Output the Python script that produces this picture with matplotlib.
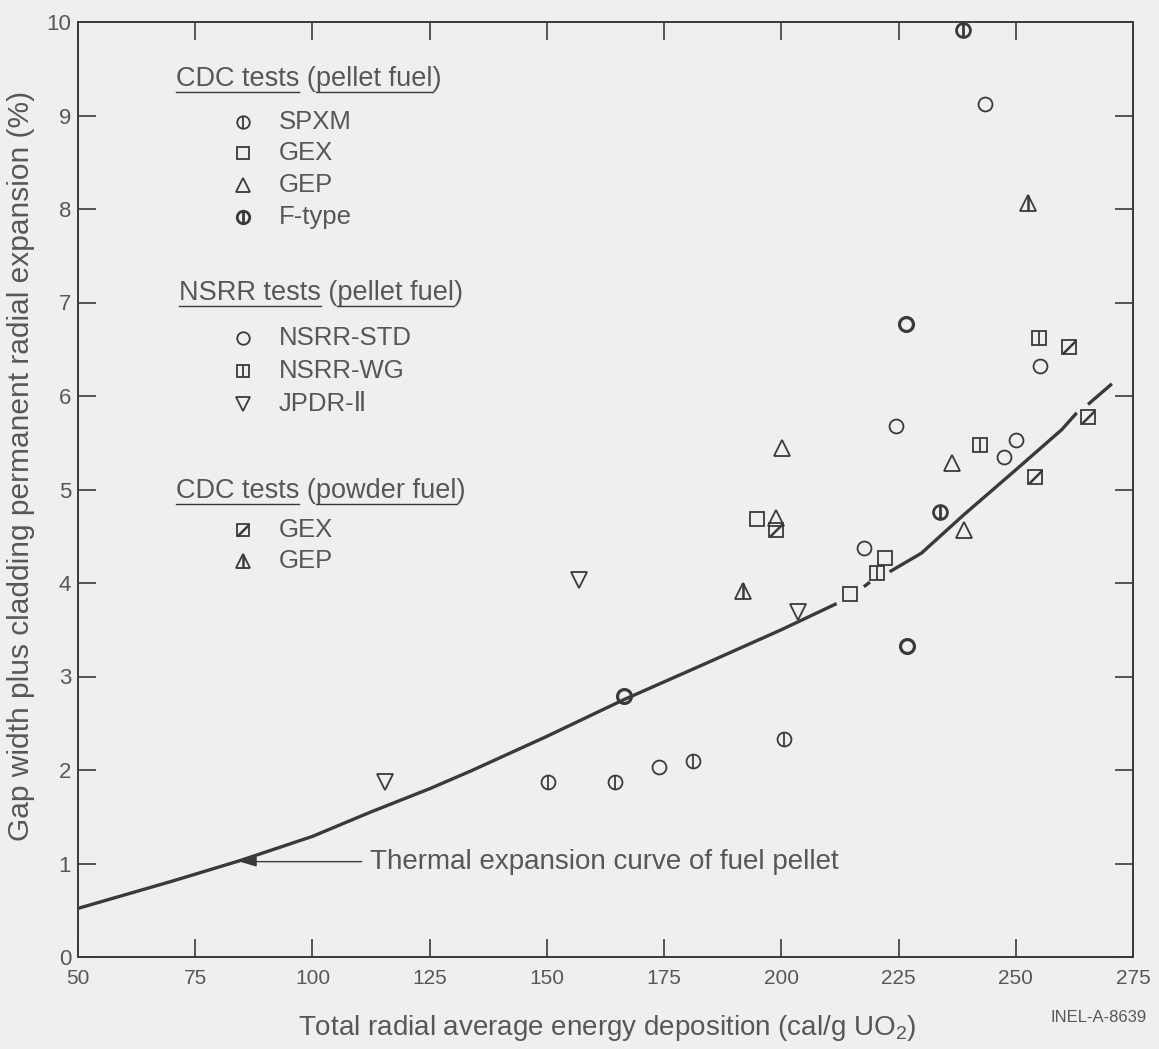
import matplotlib
matplotlib.use('Agg')
import matplotlib.pyplot as plt
from matplotlib.path import Path
from matplotlib.lines import Line2D

plt.rcParams['font.family'] = ['Liberation Sans', 'DejaVu Sans']
plt.rcParams['mathtext.fontset'] = 'custom'
plt.rcParams['mathtext.rm'] = 'Liberation Sans'
plt.rcParams['mathtext.default'] = 'regular'

INK = '#3a3a3a'
TXT = '#575757'
PAPER = '#efefef'

# CDC tests (pellet fuel)
spxm_x = [150.2, 164.5, 181.1, 200.5]
spxm_y = [1.87, 1.87, 2.10, 2.33]
gex_x = [194.9, 214.7, 222.2]
gex_y = [4.68, 3.88, 4.27]
gep_x = [200.2, 198.9, 236.5, 238.9]
gep_y = [5.44, 4.70, 5.28, 4.57]
ftype_x = [233.8, 238.7]
ftype_y = [4.76, 9.91]

# NSRR tests (pellet fuel)
std_x = [173.9, 217.7, 224.4, 243.4, 247.4, 250.0, 255.2]
std_y = [2.03, 4.37, 5.68, 9.12, 5.35, 5.53, 6.32]
std_bold_x = [166.4, 226.5, 226.9]
std_bold_y = [2.79, 6.77, 3.33]
wg_x = [220.3, 242.3, 254.9]
wg_y = [4.11, 5.48, 6.62]
jpdr_x = [115.4, 156.8, 203.5]
jpdr_y = [1.87, 4.03, 3.69]

# CDC tests (powder fuel)
pgex_x = [198.9, 254.0, 261.3, 265.4]
pgex_y = [4.57, 5.13, 6.52, 5.78]
pgep_x = [191.9, 252.6]
pgep_y = [3.91, 8.06]

# thermal expansion curve, drawn in pieces (gaps around the markers)
curve_parts = [
    ([50, 70, 84.5, 100, 112.4, 125, 133.8, 150, 166.3, 183, 200, 211.8],
     [0.52, 0.81, 1.03, 1.29, 1.55, 1.80, 1.99, 2.36, 2.75, 3.12, 3.50, 3.78]),
    ([217.6, 218.9], [3.96, 4.01]),
    ([223.1, 229.9, 238.7, 250, 259.8, 263], [4.12, 4.32, 4.72, 5.21, 5.64, 5.82]),
    ([265.4, 270.5], [5.91, 6.13]),
]

x_ticks = [50, 75, 100, 125, 150, 175, 200, 225, 250, 275]
y_ticks = list(range(0, 11))

diag = Path([(-1, -1), (1, 1)], [Path.MOVETO, Path.LINETO])


def mark(ax, xs, ys, kind, ms=10, **kw):
    base = dict(linestyle='none', color=INK, mfc='none', mec=INK, mew=1.3, clip_on=False)
    base.update(kw)
    if kind == 'spxm':
        ax.plot(xs, ys, marker='o', ms=ms, **base)
        ax.plot(xs, ys, marker='|', ms=ms, **base)
    elif kind == 'ftype':
        b = dict(base, mew=2.0)
        ax.plot(xs, ys, marker='o', ms=ms, **b)
        ax.plot(xs, ys, marker='|', ms=ms, **b)
    elif kind == 'gex':
        ax.plot(xs, ys, marker='s', ms=ms * 0.95, **base)
    elif kind == 'gep':
        ax.plot(xs, ys, marker='^', ms=ms * 1.15, **base)
    elif kind == 'std':
        ax.plot(xs, ys, marker='o', ms=ms, **base)
    elif kind == 'std_bold':
        ax.plot(xs, ys, marker='o', ms=ms, **dict(base, mew=2.3))
    elif kind == 'wg':
        ax.plot(xs, ys, marker='s', ms=ms * 0.95, **base)
        ax.plot(xs, ys, marker='|', ms=ms * 0.95, **base)
    elif kind == 'jpdr':
        ax.plot(xs, ys, marker='v', ms=ms * 1.15, **base)
    elif kind == 'pgex':
        ax.plot(xs, ys, marker='s', ms=ms * 0.95, **base)
        ax.plot(xs, ys, marker=diag, ms=ms * 0.95, **dict(base, mew=1.8))
    elif kind == 'pgep':
        ax.plot(xs, ys, marker='^', ms=ms * 1.15, **base)
        ax.plot(xs, ys, marker='|', ms=ms * 1.15, **dict(base, mew=1.8))


W, H = 1159, 1049
fig = plt.figure(figsize=(W / 100, H / 100), dpi=100, facecolor=PAPER)
ax = fig.add_axes([78 / W, 1 - 957 / H, (1133 - 78) / W, (957 - 22) / H])
ax.set_facecolor(PAPER)

for cx, cy in curve_parts:
    ax.plot(cx, cy, color=INK, lw=2.4, solid_capstyle='butt')

mark(ax, spxm_x, spxm_y, 'spxm')
mark(ax, gex_x, gex_y, 'gex')
mark(ax, gep_x, gep_y, 'gep')
mark(ax, ftype_x, ftype_y, 'ftype')
mark(ax, std_x, std_y, 'std')
mark(ax, std_bold_x, std_bold_y, 'std_bold')
mark(ax, wg_x, wg_y, 'wg')
mark(ax, jpdr_x, jpdr_y, 'jpdr')
mark(ax, pgex_x, pgex_y, 'pgex')
mark(ax, pgep_x, pgep_y, 'pgep')

ax.set_xlim(50, 275)
ax.set_ylim(0, 10)
ax.set_xticks(x_ticks)
ax.set_yticks(y_ticks)
for s in ax.spines.values():
    s.set_color(INK)
    s.set_linewidth(1.4)
ax.tick_params(direction='in', length=13, width=1.2, color=INK, top=True, right=True,
               labelcolor=TXT)
ax.tick_params(axis='y', labelsize=16, pad=5)
ax.tick_params(axis='x', labelsize=15, pad=9)

# annotation for the curve
ax.annotate('', xy=(84.5, 1.02), xytext=(110.5, 1.02),
            arrowprops=dict(arrowstyle='-|>,head_length=1.0,head_width=0.3',
                            color=INK, lw=1.0, shrinkA=0, shrinkB=0))
ax.text(112.3, 1.02, 'Thermal expansion curve of fuel pellet', fontsize=20,
        color=TXT, va='center', ha='left')


# legend, drawn by hand
def fx(px):
    return px / W


def fy(py):
    return 1 - py / H


renderer = fig.canvas.get_renderer()
HEAD_FS = 19.5


def text_width_px(s):
    t = fig.text(0, 0, s, fontsize=HEAD_FS)
    w = t.get_window_extent(renderer).width
    t.remove()
    return w


def heading(px, py, first, second):
    fig.text(fx(px), fy(py), first + ' (' + second + ')', fontsize=HEAD_FS, color=TXT,
             va='center', ha='left')
    w1 = text_width_px(first)
    w2 = text_width_px(first + ' (')
    w3 = text_width_px(first + ' (' + second)
    for a, b in ((0, w1), (w2, w3)):
        fig.add_artist(Line2D([fx(px + a), fx(px + b)], [fy(py + 13), fy(py + 13)],
                              color=INK, lw=1.0))


heading(176, 79, 'CDC tests', 'pellet fuel')
heading(179, 293, 'NSRR tests', 'pellet fuel')
heading(176, 491, 'CDC tests', 'powder fuel')

legend_rows = [
    ('spxm', 'SPXM', 122), ('gex', 'GEX', 153), ('gep', 'GEP', 185), ('ftype', 'F-type', 217),
    ('std', 'NSRR-STD', 338), ('wg', 'NSRR-WG', 371), ('jpdr', 'JPDR-\u2161', 404),
    ('pgex', 'GEX', 530), ('pgep', 'GEP', 561),
]
for kind, label, py in legend_rows:
    mark(ax, [fx(243)], [fy(py)], kind, ms=9, transform=fig.transFigure)
    fig.text(fx(279), fy(py), label, fontsize=18.5, color=TXT, va='center', ha='left')

fig.text(fx(607), fy(1028), 'Total radial average energy deposition (cal/g UO$_2$)',
         fontsize=20, color=TXT, ha='center', va='center')
fig.text(fx(21), fy(466), 'Gap width plus cladding permanent radial expansion (%)',
         fontsize=21.5, color=TXT, ha='center', va='center', rotation=90)
fig.text(fx(1147), fy(1018), 'INEL-A-8639', fontsize=12, color=TXT, ha='right', va='center')

fig.savefig('out.png', dpi=100, facecolor=PAPER)
